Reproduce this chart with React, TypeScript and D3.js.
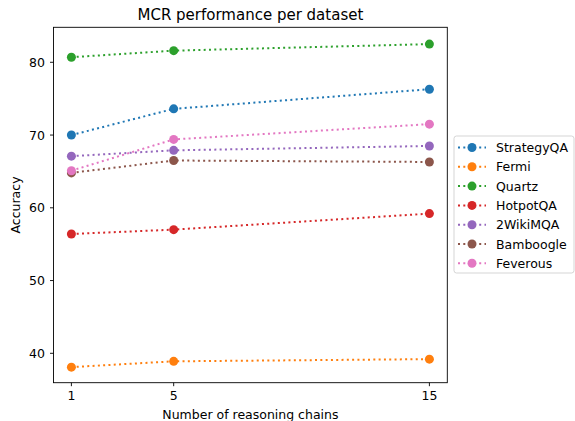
import React from "react";
import * as d3 from "d3";

const chains = [1, 5, 15];
const seriesNames = ["StrategyQA", "Fermi", "Quartz", "HotpotQA", "2WikiMQA", "Bamboogle", "Feverous"];
const strategyQA = [70.0, 73.6, 76.3];
const fermi = [38.1, 38.9, 39.2];
const quartz = [80.7, 81.6, 82.5];
const hotpotQA = [56.4, 57.0, 59.2];
const wikiMQA = [67.1, 67.9, 68.5];
const bamboogle = [64.8, 66.5, 66.3];
const feverous = [65.1, 69.4, 71.5];
const seriesValues = [strategyQA, fermi, quartz, hotpotQA, wikiMQA, bamboogle, feverous];
const colors = ["#1f77b4", "#ff7f0e", "#2ca02c", "#d62728", "#9467bd", "#8c564b", "#e377c2"];
const yTicks = [40, 50, 60, 70, 80];

const W = 575, H = 421;
const L = 53.5, R = 447.3, T = 27.3, B = 382.7;
const font = "DejaVu Sans, sans-serif";
const fs = 12.5;

export default function App() {
  const x = d3.scaleLinear().domain([0.3, 15.7]).range([L, R]);
  const y = d3.scaleLinear().domain([35.96, 84.81]).range([B, T]);
  const line = d3.line<number>().x((_, i) => x(chains[i])).y((d) => y(d));
  return (
    <svg width={W} height={H} style={{ position: "absolute", left: 0, top: 0 }} fontFamily={font}>
      <rect width={W} height={H} fill="#fff" />
      <text x={(L + R) / 2} y={20} textAnchor="middle" fontSize={15} fill="#000">MCR performance per dataset</text>
      {seriesValues.map((vals, s) => (
        <g key={s}>
          <path d={line(vals) || ""} fill="none" stroke={colors[s]} strokeWidth={2} strokeDasharray="2,3.3" />
          {vals.map((v, i) => (
            <circle key={i} cx={x(chains[i])} cy={y(v)} r={4.5} fill={colors[s]} />
          ))}
        </g>
      ))}
      <rect x={L} y={T} width={R - L} height={B - T} fill="none" stroke="#000" strokeWidth={0.9} />
      {yTicks.map((t) => (
        <g key={t}>
          <line x1={L} x2={L - 3.5} y1={y(t)} y2={y(t)} stroke="#000" strokeWidth={0.9} />
          <text x={L - 8.5} y={y(t)} dy="0.36em" textAnchor="end" fontSize={fs} fill="#000">{t}</text>
        </g>
      ))}
      {chains.map((c) => (
        <g key={c}>
          <line x1={x(c)} x2={x(c)} y1={B} y2={B + 3.5} stroke="#000" strokeWidth={0.9} />
          <text x={x(c)} y={400} textAnchor="middle" fontSize={fs} fill="#000">{c}</text>
        </g>
      ))}
      <text x={(L + R) / 2} y={418.5} textAnchor="middle" fontSize={fs} fill="#000">Number of reasoning chains</text>
      <text transform={`translate(20,${(T + B) / 2}) rotate(-90)`} textAnchor="middle" fontSize={fs} fill="#000">Accuracy</text>
      <rect x={454} y={136} width={120} height={137} rx={2.5} fill="#fff" stroke="#d0d0d0" strokeWidth={0.9} />
      {seriesNames.map((n, i) => {
        const ly = 147.5 + i * 19.3;
        return (
          <g key={n}>
            <line x1={458} x2={486} y1={ly} y2={ly} stroke={colors[i]} strokeWidth={2} strokeDasharray="2,3.3" />
            <circle cx={472} cy={ly} r={4.5} fill={colors[i]} />
            <text x={496} y={ly} dy="0.36em" fontSize={fs} fill="#000">{n}</text>
          </g>
        );
      })}
    </svg>
  );
}
